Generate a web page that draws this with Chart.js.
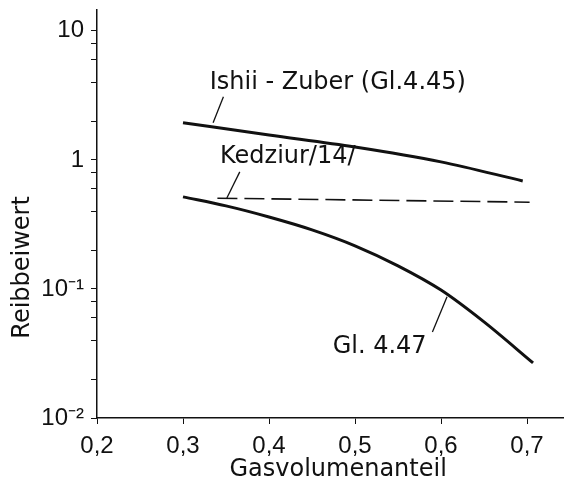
<!DOCTYPE html>
<html>
<head>
<meta charset="utf-8">
<script src="https://cdn.jsdelivr.net/npm/chart.js@4.4.0/dist/chart.umd.min.js"></script>
<style>
  html, body { margin: 0; padding: 0; background: #fff; }
  #wrap { width: 564px; height: 484px; }
</style>
</head>
<body>
<div id="wrap"><canvas id="chart"></canvas></div>
<script>
// values
const xTicks = [0.2, 0.3, 0.4, 0.5, 0.6, 0.7];
const yTicks = [0.01, 0.02, 0.04, 0.06, 0.08, 0.1, 0.2, 0.4, 0.6, 0.8, 1, 2, 4, 6, 8, 10];
const yLabels = { 0.01: '10⁻²', 0.1: '10⁻¹', 1: '1', 10: '10' };

const ishiiX = [0.3, 0.4, 0.5, 0.6, 0.695];
const ishiiY = [1.94, 1.56, 1.26, 0.965, 0.687];

const kedziurX = [0.34, 0.703];
const kedziurY = [0.505, 0.47];

const gl447X = [0.3, 0.35, 0.4, 0.45, 0.5, 0.55, 0.6, 0.65, 0.707];
const gl447Y = [0.517, 0.44, 0.361, 0.287, 0.216, 0.151, 0.098, 0.0555, 0.0267];

const TEXT_FONT = "'DejaVu Sans', sans-serif";
const TICK_FONT = "'Liberation Sans', Arial, sans-serif";
const INK = '#111';

const pts = (xs, ys) => xs.map((x, i) => ({ x: x, y: ys[i] }));

// curve labels with leader lines, in data units
const notes = [
  { text: 'Ishii - Zuber (Gl.4.45)', at: [0.331, 3.95], from: [0.347, 3.08], to: [0.335, 1.94] },
  { text: 'Kedziur/14/', at: [0.343, 1.05], from: [0.366, 0.807], to: [0.351, 0.507] },
  { text: 'Gl. 4.47', at: [0.474, 0.0355], from: [0.607, 0.0869], to: [0.590, 0.0464] }
];

const notePlugin = {
  id: 'notes',
  afterDatasetsDraw(chart) {
    const { ctx, scales: { x, y } } = chart;
    ctx.save();
    ctx.fillStyle = INK;
    ctx.strokeStyle = INK;
    ctx.lineWidth = 1.3;
    ctx.font = '24px ' + TEXT_FONT;
    ctx.textBaseline = 'middle';
    ctx.textAlign = 'left';
    notes.forEach(n => {
      ctx.fillText(n.text, x.getPixelForValue(n.at[0]), y.getPixelForValue(n.at[1]));
      ctx.beginPath();
      ctx.moveTo(x.getPixelForValue(n.from[0]), y.getPixelForValue(n.from[1]));
      ctx.lineTo(x.getPixelForValue(n.to[0]), y.getPixelForValue(n.to[1]));
      ctx.stroke();
    });
    ctx.restore();
  }
};

const line = (data, extra) => Object.assign({
  data: data,
  borderColor: INK,
  borderWidth: 3,
  pointRadius: 0,
  fill: false,
  tension: 0.4,
  cubicInterpolationMode: 'monotone'
}, extra || {});

new Chart(document.getElementById('chart'), {
  type: 'line',
  data: {
    datasets: [
      line(pts(ishiiX, ishiiY), { label: 'Ishii-Zuber (Gl.4.45)' }),
      line(pts(kedziurX, kedziurY), { label: 'Kedziur/14/', borderWidth: 1.6, borderDash: [20, 7] }),
      line(pts(gl447X, gl447Y), { label: 'Gl. 4.47' })
    ]
  },
  options: {
    responsive: true,
    maintainAspectRatio: false,
    animation: false,
    layout: { padding: { top: 10, right: 0, left: 0, bottom: 0 } },
    plugins: { legend: { display: false }, tooltip: { enabled: false } },
    scales: {
      x: {
        type: 'linear',
        min: 0.2,
        max: 0.743,
        afterFit: s => { s.height = 66; s.paddingLeft = 0; s.paddingRight = 0; },
        afterBuildTicks: s => { s.ticks = xTicks.map(v => ({ value: v })); },
        border: { display: true, color: INK, width: 1.5 },
        grid: { drawOnChartArea: false, drawTicks: true, tickLength: 6, color: INK, tickColor: INK },
        ticks: {
          color: INK,
          padding: 8,
          font: { family: TICK_FONT, size: 24 },
          callback: v => v.toFixed(1).replace('.', ',')
        },
        title: {
          display: true,
          text: '  Gasvolumenanteil',
          color: INK,
          font: { family: TEXT_FONT, size: 24 },
          padding: { top: 0, bottom: 0 }
        }
      },
      y: {
        type: 'logarithmic',
        min: 0.01,
        max: 14.5,
        afterFit: s => { s.width = 97; s.paddingTop = 0; s.paddingBottom = 0; },
        afterBuildTicks: s => { s.ticks = yTicks.map(v => ({ value: v })); },
        border: { display: true, color: INK, width: 1.5 },
        grid: {
          drawOnChartArea: false, drawTicks: true, tickLength: 6, color: INK, tickColor: INK
        },
        ticks: {
          color: INK,
          padding: 7,
          autoSkip: false,
          font: { family: TICK_FONT, size: 24 },
          callback: v => yLabels[v] || ''
        },
        title: {
          display: true,
          text: 'Reibbeiwert              ',
          color: INK,
          font: { family: TEXT_FONT, size: 24 },
          padding: { top: 8, bottom: 0 }
        }
      }
    }
  },
  plugins: [notePlugin]
});
</script>
</body>
</html>
